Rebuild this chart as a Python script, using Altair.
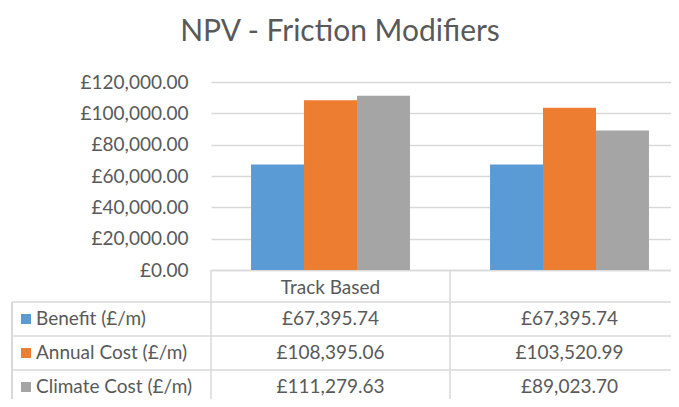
import altair as alt
import pandas as pd

# ---- data ----
categories = ["Track Based", ""]
series = ["Benefit (£/m)", "Annual Cost (£/m)", "Climate Cost (£/m)"]
benefit = [67395.74, 67395.74]
annual_cost = [108395.06, 103520.99]
climate_cost = [111279.63, 89023.70]
colors = ["#5B9BD5", "#ED7D31", "#A5A5A5"]
y_ticks = [0, 20000, 40000, 60000, 80000, 100000, 120000]
title_text = "NPV - Friction Modifiers"

rows = []
for s, vals in zip(series, [benefit, annual_cost, climate_cost]):
    for c, v in zip(categories, vals):
        rows.append({"category": c, "series": s, "value": v})
df = pd.DataFrame(rows)
series_df = pd.DataFrame({"series": series})
cat_df = pd.DataFrame({"category": categories})

FONT = "Lato"
TXT = "#595959"
LINE = "#D9D9D9"
W, H = 460, 188
XR = [0, 478]          # full width of the two category columns
ROW_R = [220, 322]     # table rows below the plot

color_scale = alt.Scale(domain=series, range=colors)
x_bar = alt.Scale(domain=categories, range=XR, paddingInner=0.335, paddingOuter=0.1675)
x_tab = alt.Scale(domain=categories, range=XR, paddingInner=0, paddingOuter=0, type="band")
y_tab = alt.Scale(domain=series, range=ROW_R, type="band", paddingInner=0, paddingOuter=0)

bars = alt.Chart(df).mark_bar().encode(
    x=alt.X("category:N", scale=x_bar, sort=categories,
            axis=alt.Axis(title=None, ticks=False, grid=False, domain=True,
                          domainColor=LINE, domainWidth=1.5, labelFont=FONT,
                          labelFontSize=19, labelColor=TXT, labelPadding=8,
                          labelAngle=0)),
    xOffset=alt.XOffset("series:N", sort=series, scale=alt.Scale(domain=series)),
    y=alt.Y("value:Q", scale=alt.Scale(domain=[0, 120000], nice=False),
            axis=alt.Axis(title=None, values=y_ticks, domain=False, ticks=False,
                          grid=True, gridColor=LINE, gridWidth=1.5,
                          labelExpr="'£' + format(datum.value, ',.2f')",
                          labelFont=FONT, labelFontSize=19, labelColor=TXT,
                          labelPadding=23)),
    color=alt.Color("series:N", scale=color_scale, legend=None),
)

values_text = alt.Chart(df).transform_calculate(
    label="'£' + format(datum.value, ',.2f')"
).mark_text(font=FONT, fontSize=19, color=TXT, align="center", baseline="middle").encode(
    x=alt.X("category:N", scale=x_tab, axis=None, bandPosition=0.5),
    y=alt.Y("series:N", scale=y_tab, axis=None, bandPosition=0.5),
    text="label:N",
)

swatches = alt.Chart(series_df).mark_square(size=100, opacity=1, filled=True).encode(
    x=alt.value(-185),
    y=alt.Y("series:N", scale=y_tab, axis=None, bandPosition=0.5),
    color=alt.Color("series:N", scale=color_scale, legend=None),
)

row_labels = alt.Chart(series_df).mark_text(
    font=FONT, fontSize=19, color=TXT, align="left", baseline="middle"
).encode(
    x=alt.value(-175),
    y=alt.Y("series:N", scale=y_tab, axis=None, bandPosition=0.5),
    text="series:N",
)

h_rules = alt.Chart(series_df).mark_rule(color=LINE, strokeWidth=1.5).encode(
    y=alt.Y("series:N", scale=y_tab, axis=None, bandPosition=0),
    x=alt.value(-199),
    x2=alt.value(500),
)

v_rules = alt.Chart(cat_df).mark_rule(color=LINE, strokeWidth=1.5).encode(
    x=alt.X("category:N", scale=x_tab, axis=None, bandPosition=0),
    y=alt.value(188),
    y2=alt.value(360),
)

left_rule = alt.Chart(series_df).mark_rule(color=LINE, strokeWidth=1.5).encode(
    x=alt.value(-199),
    y=alt.value(220),
    y2=alt.value(360),
)

chart = alt.layer(
    bars, h_rules, v_rules, left_rule, values_text, swatches, row_labels
).resolve_scale(
    x="independent", y="independent"
).properties(
    width=W, height=H,
    title=alt.TitleParams(title_text, font=FONT, fontSize=30, fontWeight="normal",
                          color=TXT, anchor="middle", dx=-101, offset=2,
                          baseline="alphabetic"),
    autosize=alt.AutoSizeParams(type="none"),
    padding={"left": 203, "top": 74, "right": 0, "bottom": 129},
    background="white",
).configure_view(stroke=None)

chart.save("out.html", embed_options={"renderer": "svg", "actions": False})
